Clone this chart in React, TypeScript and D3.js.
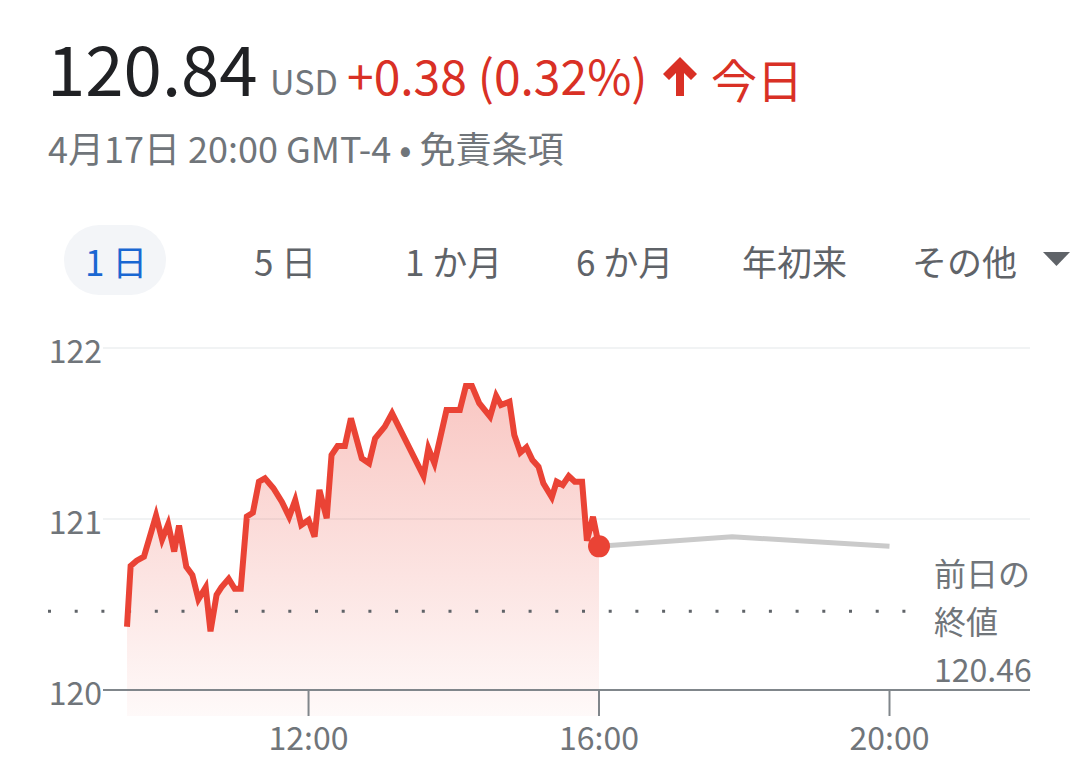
import React from "react";
import * as d3 from "d3";

// ---- Data ----
const intradayTimes = [
  "9:30", "9:33", "9:38", "9:44", "9:54", "9:59", "10:04", "10:09", "10:13", "10:19",
  "10:24", "10:29", "10:35", "10:39", "10:44", "10:48", "10:54", "10:59", "11:04", "11:09",
  "11:14", "11:19", "11:24", "11:31", "11:38", "11:44", "11:49", "11:54", "12:00", "12:05",
  "12:09", "12:15", "12:19", "12:24", "12:30", "12:35", "12:44", "12:50", "12:55", "13:03",
  "13:09", "13:35", "13:39", "13:44", "13:54", "14:05", "14:10", "14:15", "14:21", "14:30",
  "14:35", "14:39", "14:46", "14:50", "14:55", "15:00", "15:05", "15:10", "15:14", "15:21",
  "15:25", "15:30", "15:35", "15:40", "15:46", "15:50", "15:55", "16:00",
];
const intradayPrices = [
  120.37, 120.725, 120.756, 120.78, 121.02, 120.88, 120.97, 120.81, 120.962, 120.72,
  120.672, 120.53, 120.6, 120.343, 120.556, 120.6, 120.65, 120.592, 120.592, 121.015,
  121.037, 121.218, 121.238, 121.18, 121.1, 121.013, 121.11, 120.965, 120.994, 120.896,
  121.17, 121.004, 121.374, 121.427, 121.427, 121.589, 121.355, 121.326, 121.472, 121.54,
  121.618, 121.251, 121.413, 121.326, 121.637, 121.637, 121.778, 121.778, 121.677, 121.598,
  121.72, 121.667, 121.686, 121.491, 121.388, 121.419, 121.345, 121.306, 121.209, 121.127,
  121.218, 121.199, 121.251, 121.218, 121.218, 120.873, 121.013, 120.84,
];
const afterTimes = ["16:00", "17:50", "20:00"];
const afterPrices = [120.84, 120.896, 120.84];

const yTicks = [120, 121, 122];
const xTickLabels = ["12:00", "16:00", "20:00"];
const prevClose = 120.46;
const lastPrice = "120.84";
const changeText = "+0.38 (0.32%)";
const tabLabels = ["1 日", "5 日", "1 か月", "6 か月", "年初来", "その他"];

// ---- helpers ----
const toMin = (s: string) => {
  const [h, m] = s.split(":").map(Number);
  return h * 60 + m;
};

const FONT = "'Noto Sans CJK JP', 'Noto Sans', sans-serif";
const GRAY = "#70757a";
const RED_TEXT = "#d93025";
const RED = "#ea4335";

export default function App() {
  const x = d3.scaleLinear().domain([toMin("9:30"), toMin("20:00")]).range([127, 889.5]);
  const y = d3.scaleLinear().domain([120, 122]).range([690, 348]);

  const intraday = intradayTimes.map((t, i) => ({ t: toMin(t), p: intradayPrices[i] }));
  const after = afterTimes.map((t, i) => ({ t: toMin(t), p: afterPrices[i] }));

  const line = d3
    .line<{ t: number; p: number }>()
    .x((d) => x(d.t))
    .y((d) => y(d.p));
  const area = d3
    .area<{ t: number; p: number }>()
    .x((d) => x(d.t))
    .y0(716)
    .y1((d) => y(d.p));

  const maxP = d3.max(intradayPrices) as number;
  const last = intraday[intraday.length - 1];

  const tabX = [85, 254, 405, 576, 742, 912];

  return (
    <svg
      width={1080}
      height={768}
      style={{ position: "absolute", left: 0, top: 0, background: "#fff" }}
      fontFamily={FONT}
    >
      <defs>
        <linearGradient
          id="areaGrad"
          gradientUnits="userSpaceOnUse"
          x1={0}
          x2={0}
          y1={y(maxP)}
          y2={716}
        >
          <stop offset="0%" stopColor={RED} stopOpacity={0.3} />
          <stop offset="100%" stopColor={RED} stopOpacity={0.03} />
        </linearGradient>
      </defs>

      {/* Header */}
      <text x={47} y={96} fontSize={69} fill="#202124">
        {lastPrice}
      </text>
      <text x={270} y={95} fontSize={34} fill={GRAY}>
        USD
      </text>
      <text x={347} y={95} fontSize={48} fill={RED_TEXT}>
        {changeText}
      </text>
      <path
        d="M680 57 L663 74 L669 80 L676 73 L676 96 L684 96 L684 73 L691 80 L697 74 Z"
        fill={RED_TEXT}
      />
      <text x={711} y={98} fontSize={46} fill={RED_TEXT}>
        今日
      </text>
      <text x={48} y={163} fontSize={36} fill={GRAY}>
        4月17日 20:00 GMT-4 • 免責条項
      </text>

      {/* Tabs */}
      <rect x={64} y={225} width={102} height={70} rx={35} fill="#f3f5f8" />
      {tabLabels.map((l, i) => (
        <text
          key={l}
          x={tabX[i]}
          y={276}
          fontSize={35}
          fill={i === 0 ? "#1a67d2" : "#5f6368"}
        >
          {l}
        </text>
      ))}
      <path d="M1043 252 L1070 252 L1056.5 266 Z" fill="#5f6368" />

      {/* Gridlines */}
      {yTicks
        .filter((v) => v !== 120)
        .map((v) => (
          <line key={v} x1={103} x2={1030} y1={y(v)} y2={y(v)} stroke="#f1f3f4" strokeWidth={2} />
        ))}

      {/* Area + line */}
      <path d={area(intraday) || ""} fill="url(#areaGrad)" />

      {/* Previous close dotted line */}
      <line
        x1={48}
        x2={918}
        y1={y(prevClose)}
        y2={y(prevClose)}
        stroke="#5f6368"
        strokeWidth={3}
        strokeDasharray="3 23.7"
      />

      <path d={line(after) || ""} fill="none" stroke="#cacaca" strokeWidth={5} />
      <path d={line(intraday) || ""} fill="none" stroke={RED} strokeWidth={6} />
      <circle cx={x(last.t)} cy={y(last.p)} r={11} fill={RED} />

      {/* X axis */}
      <line x1={103} x2={1030} y1={y(120)} y2={y(120)} stroke="#80868b" strokeWidth={2} />
      {xTickLabels.map((l) => (
        <g key={l}>
          <line x1={x(toMin(l))} x2={x(toMin(l))} y1={y(120)} y2={716} stroke="#80868b" strokeWidth={2} />
          <text x={x(toMin(l))} y={750} fontSize={32} fill={GRAY} textAnchor="middle">
            {l}
          </text>
        </g>
      ))}

      {/* Y labels */}
      {yTicks.map((v) => (
        <text key={v} x={102} y={y(v) + 15} fontSize={32} fill={GRAY} textAnchor="end">
          {v}
        </text>
      ))}

      {/* Previous close label */}
      <rect x={930} y={650} width={102} height={39} fill="#fff" />
      <text x={934} y={586} fontSize={32} fill={GRAY}>
        前日の
      </text>
      <text x={934} y={634} fontSize={32} fill={GRAY}>
        終値
      </text>
      <text x={934} y={682} fontSize={32} fill={GRAY}>
        {prevClose.toFixed(2)}
      </text>
    </svg>
  );
}
